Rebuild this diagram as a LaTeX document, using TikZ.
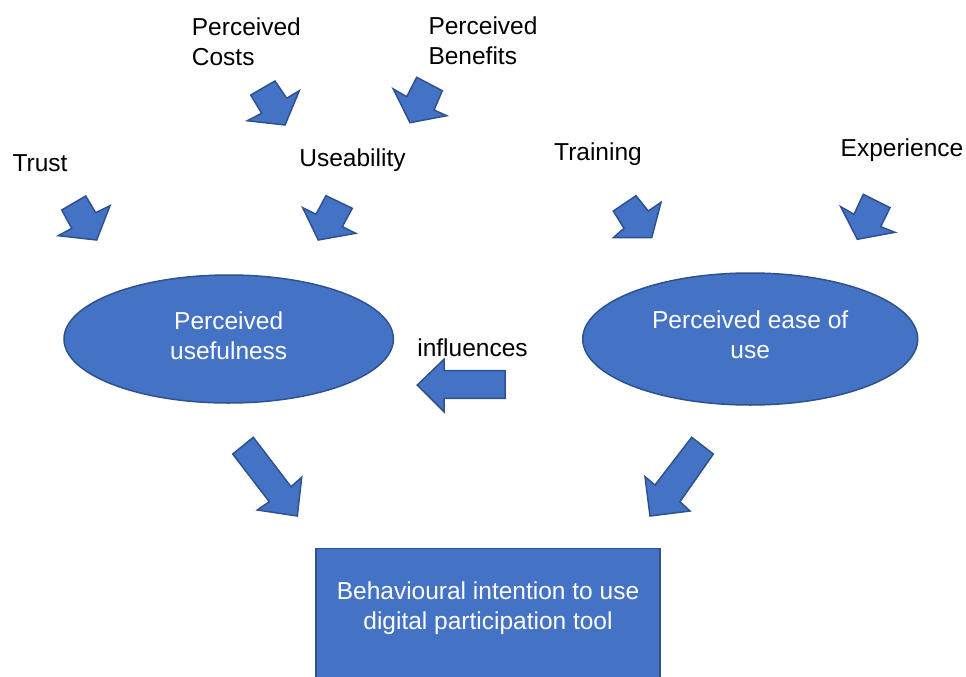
\documentclass[tikz,border=0pt]{standalone}
\usepackage{fontspec}
\setmainfont{Liberation Sans}
\usetikzlibrary{shapes.geometric}
\definecolor{boxfill}{HTML}{4472C4}
\definecolor{boxline}{HTML}{2F528F}
\begin{document}
\begin{tikzpicture}[x=1pt,y=-1pt,
  every node/.style={font=\fontsize{24.5}{30}\selectfont, inner sep=0pt},
  label/.style={text=black, align=left},
  inlabel/.style={text=white, align=center},
  shapefill/.style={fill=boxfill, draw=boxline, line width=1.5pt},
  blockarrow/.style={shapefill, line join=miter},
  bubble/.style={shapefill, ellipse}]
\useasboundingbox (0,0) rectangle (966,677);
\clip (0,0) rectangle (966,677);

% factor labels
\node[label, anchor=west] (costs) at (191.7,42) {Perceived\\Costs};
\node[label, anchor=west] (benefits) at (428.3,41) {Perceived\\Benefits};
\node[label] (trust) at (40,163) {Trust};
\node[label] (useability) at (352.5,160.5) {Useability};
\node[label] (training) at (598,154.5) {Training};
\node[label] (experience) at (902,150.5) {Experience};
\node[label] (influences) at (472.5,348) {influences};

% main constructs
\node[bubble, minimum width=329.4pt, minimum height=128pt] (pu) at (228.7,339) {};
\node[inlabel] (putext) at (228.7,336) {Perceived\\usefulness};
\node[bubble, minimum width=335pt, minimum height=132pt] (peou) at (750.2,339) {};
\node[inlabel] (peoutext) at (750.2,334.5) {Perceived ease of\\use};
\draw[shapefill] (316,548.3) rectangle (660,700);
\node[inlabel] (bi) at (488,608) {Behavioural intention to use\\digital participation tool};

% block arrows into useability
\draw[blockarrow] (250.7,95) -- (275,81) -- (286.7,98.3) -- (299.3,90.7) -- (285,125) -- (247.3,120.7) -- (261.7,113.3) -- cycle;
\draw[blockarrow] (393.3,89) -- (406.7,96.7) -- (416.7,77.3) -- (442.3,90.7) -- (434,110) -- (446.7,115.7) -- (410,122.7) -- cycle;

% block arrows into perceived usefulness
\draw[blockarrow] (61.7,210) -- (85.7,196) -- (95.7,212.7) -- (110,205.7) -- (96.7,240) -- (58.3,235.7) -- (71.7,228.3) -- cycle;
\draw[blockarrow] (302.7,207.7) -- (316,214.3) -- (326,195.7) -- (352.3,208.3) -- (342.3,226.7) -- (355.7,233.3) -- (318.3,240) -- cycle;

% block arrows into perceived ease of use
\draw[blockarrow] (613.3,211) -- (636,195.7) -- (648.3,211) -- (661,202.3) -- (651.7,237.7) -- (613.3,237.7) -- (624,228.3) -- cycle;
\draw[blockarrow] (840.7,206.7) -- (854,214.3) -- (863.3,194.3) -- (890,207.7) -- (880.7,226.7) -- (895,232.3) -- (857.3,239.3) -- cycle;

% influences arrow
\draw[blockarrow] (417.3,385) -- (444,359.3) -- (444,370.7) -- (505,370.7) -- (505,398.3) -- (444,398.3) -- (444,411.7) -- cycle;

% arrows into behavioural intention
\draw[blockarrow] (232.7,454) -- (253.3,437.3) -- (291,486.7) -- (301.7,477.3) -- (297.3,516) -- (257.3,510) -- (269.3,501.7) -- cycle;
\draw[blockarrow] (691.7,437.3) -- (713.3,454) -- (680,501.7) -- (690,511) -- (650,516) -- (645,476.7) -- (655,485) -- cycle;
\end{tikzpicture}
\end{document}
